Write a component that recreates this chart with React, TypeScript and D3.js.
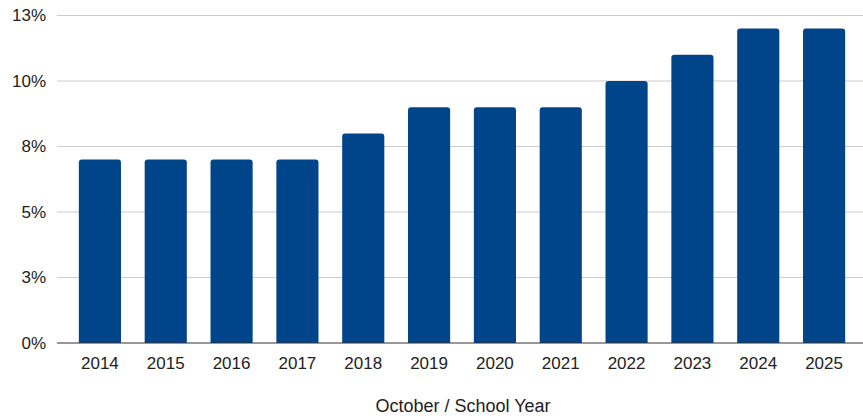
import React from "react";
import * as d3 from "d3";

const years = ["2014","2015","2016","2017","2018","2019","2020","2021","2022","2023","2024","2025"];
const values = [7, 7, 7, 7, 8, 9, 9, 9, 10, 11, 12, 12];
const yTicks = [0, 2.5, 5, 7.5, 10, 12.5];
const yTickLabels = ["0%", "3%", "5%", "8%", "10%", "13%"];
const xTitle = "October / School Year";

const W = 863, H = 420;
const FONT = "'Liberation Sans', Arial, sans-serif";
const BAR = "#00448a";

function roundedTopBar(x: number, y: number, w: number, h: number, r: number) {
  const p = d3.path();
  p.moveTo(x, y + h);
  p.lineTo(x, y + r);
  p.quadraticCurveTo(x, y, x + r, y);
  p.lineTo(x + w - r, y);
  p.quadraticCurveTo(x + w, y, x + w, y + r);
  p.lineTo(x + w, y + h);
  p.closePath();
  return p.toString();
}

export default function App() {
  const x = d3.scaleBand<string>().domain(years).range([67, 857]).paddingInner(0.36).paddingOuter(0.18);
  const y = d3.scaleLinear().domain([0, 12.5]).range([343, 15.5]);
  const gridLeft = 57, gridRight = 863;
  return (
    <svg width={W} height={H} style={{ position: "absolute", left: 0, top: 0, background: "#fff" }} fontFamily={FONT}>
      {yTicks.map((t, i) => (
        <g key={t}>
          {i > 0 && (
            <line x1={gridLeft} x2={gridRight} y1={y(t)} y2={y(t)} stroke="#cccccc" strokeWidth={1.2} />
          )}
          <text x={46} y={y(t)} dy="0.35em" textAnchor="end" fontSize={17} fill="#222">{yTickLabels[i]}</text>
        </g>
      ))}
      {years.map((yr, i) => (
        <path key={yr} d={roundedTopBar(x(yr)!, y(values[i]), x.bandwidth(), y(0) - y(values[i]), 3)} fill={BAR} />
      ))}
      <line x1={gridLeft} x2={gridRight} y1={y(0)} y2={y(0)} stroke="#333" strokeWidth={1.2} />
      {years.map((yr) => (
        <text key={yr} x={x(yr)! + x.bandwidth() / 2} y={369} textAnchor="middle" fontSize={17} fill="#222">{yr}</text>
      ))}
      <text x={463} y={412} textAnchor="middle" fontSize={18} fill="#222">{xTitle}</text>
    </svg>
  );
}
